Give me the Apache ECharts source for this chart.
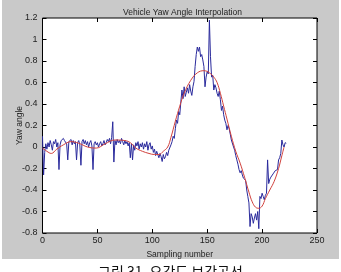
<!DOCTYPE html>
<html>
<head>
<meta charset="utf-8">
<script src="https://cdn.jsdelivr.net/npm/echarts@6/dist/echarts.min.js"></script>
<style>
  html, body { margin: 0; padding: 0; background: #fff; }
  #chart { width: 341px; height: 272px; }
</style>
</head>
<body>
<div id="chart"></div>
<script>
// measured yaw angle, one value per sample (index = sample number)
var measured = [
  0.10, -0.26, -0.05, 0.03, -0.02, 0.04, 0.0, 0.06, 0.02, -0.03,
  0.05, 0.03, 0.07, 0.0, 0.04, -0.21, 0.02, 0.06, 0.05, 0.08,
  0.06, 0.07, 0.03, -0.12, 0.05, 0.04, 0.07, 0.02, 0.06, 0.03,
  0.05, -0.12, 0.04, 0.06, 0.02, -0.17, 0.05, 0.07, 0.03, 0.06,
  0.02, 0.05, 0.0, 0.04, 0.06, 0.01, -0.21, 0.03, 0.05, 0.02,
  0.04, 0.0, 0.03, 0.05, 0.01, 0.03, 0.06, 0.02, 0.04, 0.07,
  0.05, 0.08, 0.03, 0.09, 0.235, -0.14, 0.06, 0.02, 0.07, 0.04,
  0.06, 0.03, 0.08, 0.05, 0.02, 0.06, 0.03, 0.05, 0.01, 0.04,
  -0.10, 0.03, -0.12, 0.02, -0.03, 0.04, 0.01, 0.05, -0.02, 0.03,
  0.0, 0.04, -0.02, 0.03, 0.0, 0.05, -0.03, 0.02, 0.04, -0.02,
  0.01, -0.05, -0.02, -0.08, -0.04, -0.07, -0.10, -0.06, -0.09, -0.135,
  -0.07, -0.11, -0.09, -0.05, -0.08, -0.03, -0.045, 0.02, 0.05, 0.10,
  0.08, 0.17, 0.25, 0.22, 0.33, 0.30, 0.42, 0.53, 0.45, 0.56,
  0.47, 0.51, 0.55, 0.50, 0.58, 0.52, 0.48, 0.56, 0.61, 0.75,
  0.86, 0.93, 0.89, 0.93, 0.84, 0.86, 0.81, 0.75, 0.56, 0.65,
  0.70, 0.68, 1.18, 0.84, 0.65, 0.67, 0.53, 0.58, 0.55, 0.50,
  0.47, 0.52, 0.44, 0.34, 0.38, 0.30, 0.25, 0.22, 0.16, 0.20,
  0.17, 0.12, 0.065, 0.08, 0.0, -0.03, -0.08, -0.12, -0.16, -0.21,
  -0.24, -0.22, -0.26, -0.29, -0.28, -0.31, -0.40, -0.46, -0.52, -0.74,
  -0.62, -0.65, -0.71, -0.66, -0.62, -0.68, -0.60, -0.76, -0.46, -0.48,
  -0.43, -0.46, -0.49, -0.45, -0.43, -0.12, -0.34, -0.30, -0.28, -0.27,
  -0.25, -0.26, -0.22, -0.23, -0.21, -0.12, -0.10, -0.06, 0.065, 0.02,
  0.0, 0.04, 0.035
];

// interpolated curve, read at a few sample numbers
var interpX = [0, 4, 8, 13, 19, 26, 33, 41, 49, 57, 66, 75, 80, 85, 91, 97, 102, 106, 110, 114,
  117, 121, 125, 129, 135, 141, 147, 152, 156, 159, 162, 165, 168, 172, 176, 180, 184, 188,
  191, 194, 197, 200, 203, 207, 211, 215, 218, 220];
var interpY = [-0.01, -0.04, -0.06, -0.02, 0.02, 0.05, 0.035, 0.0, -0.01, 0.03, 0.065, 0.06, 0.04, -0.01, -0.04, -0.06, -0.07, -0.07, -0.04, 0.0,
  0.09, 0.24, 0.38, 0.5, 0.62, 0.69, 0.71, 0.69, 0.65, 0.6, 0.5, 0.38, 0.26, 0.1, -0.04, -0.15, -0.28, -0.42,
  -0.51, -0.56, -0.57, -0.55, -0.48, -0.4, -0.32, -0.2, -0.08, 0.0];

var xTicks = [0, 50, 100, 150, 200, 250];
var yTicks = [-0.8, -0.6, -0.4, -0.2, 0, 0.2, 0.4, 0.6, 0.8, 1, 1.2];

var measuredData = measured.map(function (v, i) { return [i, v]; });
var interpData = interpX.map(function (x, i) { return [x, interpY[i]]; });

var chart = echarts.init(document.getElementById('chart'), null, { renderer: 'canvas' });

var font = 'Liberation Sans, Arial, sans-serif';
var tick = { show: true, inside: true, length: 4, lineStyle: { color: '#000', width: 1 } };
var noLine = { show: false, onZero: false };

chart.setOption({
  animation: false,
  backgroundColor: '#fff',
  graphic: [
    { type: 'rect', z: -10, silent: true, shape: { x: 2, y: 0, width: 337, height: 259 }, style: { fill: '#c9c9c9' } },
    { type: 'text', left: 'center', top: 265, silent: true,
      style: { text: '그림 31. 요각도 보간곡선', fill: '#111', font: '14px "Noto Sans CJK KR"' } }
  ],
  title: {
    text: 'Vehicle Yaw Angle Interpolation',
    left: 118, top: 3,
    textStyle: { fontSize: 8.5, fontWeight: 'normal', color: '#222', fontFamily: font }
  },
  grid: {
    left: 42.5, right: 24, top: 18, bottom: 39, outerBoundsMode: 'none',
    show: true, backgroundColor: '#fff', borderColor: '#000', borderWidth: 1
  },
  xAxis: [{
    type: 'value', min: xTicks[0], max: xTicks[xTicks.length - 1], interval: 50,
    name: 'Sampling number', nameLocation: 'middle', nameGap: 14,
    nameTextStyle: { fontSize: 8.5, color: '#222', fontFamily: font },
    axisLine: noLine, splitLine: { show: false }, axisTick: tick,
    axisLabel: { fontSize: 9, color: '#222', margin: 3, fontFamily: font }
  }, {
    type: 'value', position: 'top', min: 0, max: 250, interval: 50,
    axisLine: noLine, splitLine: { show: false }, axisTick: tick, axisLabel: { show: false }
  }],
  yAxis: [{
    type: 'value', min: yTicks[0], max: yTicks[yTicks.length - 1], interval: 0.2,
    name: 'Yaw angle', nameLocation: 'middle', nameGap: 18, nameMoveOverlap: false,
    nameTextStyle: { fontSize: 8.5, color: '#222', fontFamily: font },
    axisLine: noLine, splitLine: { show: false }, axisTick: tick,
    axisLabel: { fontSize: 9, color: '#222', margin: 5, fontFamily: font }
  }, {
    type: 'value', position: 'right', min: -0.8, max: 1.2, interval: 0.2,
    axisLine: noLine, splitLine: { show: false }, axisTick: tick, axisLabel: { show: false }
  }],
  series: [{
    name: 'measured', type: 'line', data: measuredData, showSymbol: false,
    lineStyle: { color: '#2a2a9c', width: 1 }, z: 3
  }, {
    name: 'interpolated', type: 'line', data: interpData, showSymbol: false, smooth: 0.4,
    lineStyle: { color: '#d0403c', width: 1 }, z: 4
  }]
});
</script>
</body>
</html>
